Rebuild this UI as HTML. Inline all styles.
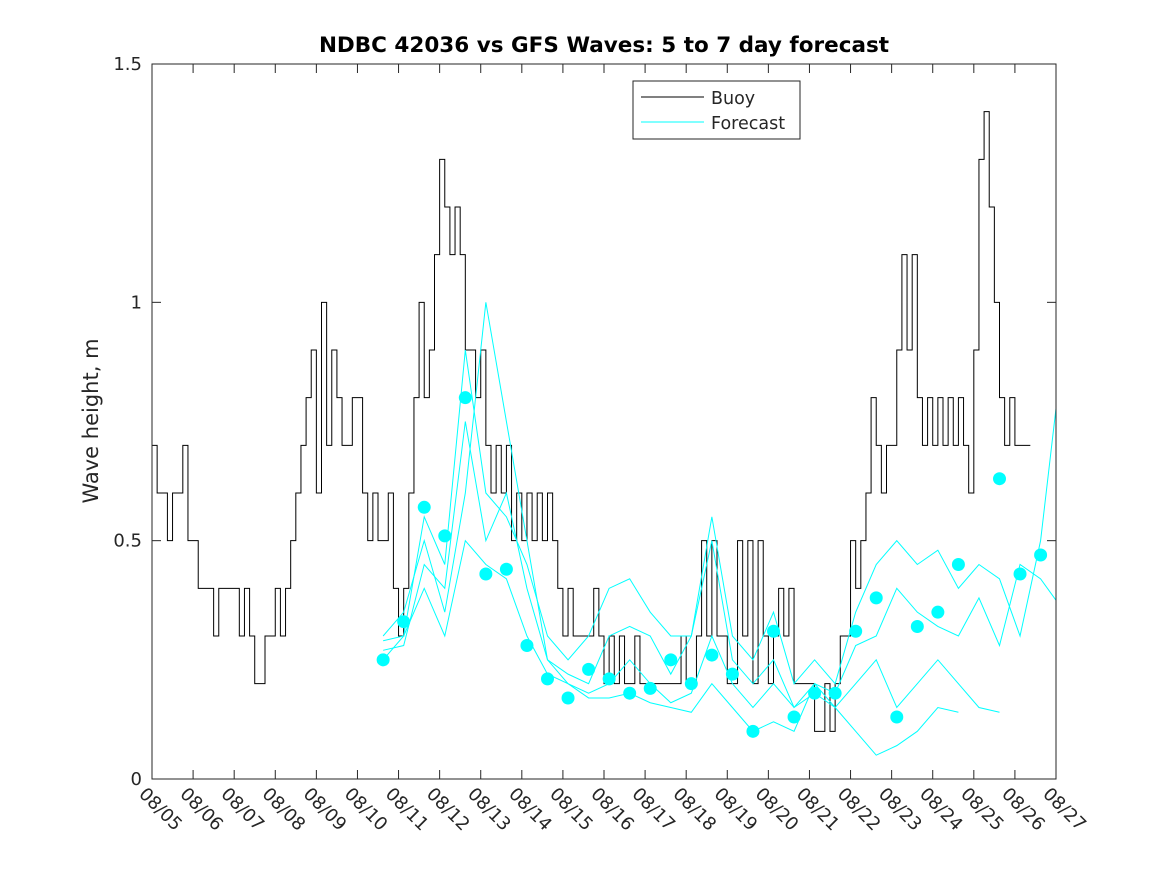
<!DOCTYPE html>
<html><head><meta charset="utf-8"><style>
body{margin:0;background:#fff}
svg{display:block;font-family:"DejaVu Sans","Liberation Sans",sans-serif}
</style></head><body>
<svg id="chart" width="1167" height="875">
<defs><clipPath id="pc"><rect x="152" y="64" width="904" height="715"/></clipPath></defs>
<rect x="0" y="0" width="1167" height="875" fill="#fff"/>
<text x="604" y="52" text-anchor="middle" font-size="21.5" font-weight="bold">NDBC 42036 vs GFS Waves: 5 to 7 day forecast</text>
<g id="axes"></g>
<g id="series" clip-path="url(#pc)"></g>
<rect x="152" y="64" width="904" height="715" fill="none" stroke="#262626" stroke-width="1"/>
<text transform="translate(98,421) rotate(-90)" text-anchor="middle" font-size="21" fill="#262626">Wave height, m</text>
<g>
<rect x="633" y="81" width="167" height="58" fill="#fff" stroke="#262626"/>
<line x1="641" y1="97" x2="704" y2="97" stroke="#000"/>
<text x="711" y="104" font-size="17.5" fill="#262626">Buoy</text>
<line x1="641" y1="122" x2="704" y2="122" stroke="#00ffff"/>
<text x="711" y="129" font-size="17.5" fill="#262626">Forecast</text>
</g>
</svg>
<script>
const xTickLabels=["08/05","08/06","08/07","08/08","08/09","08/10","08/11","08/12","08/13","08/14","08/15","08/16","08/17","08/18","08/19","08/20","08/21","08/22","08/23","08/24","08/25","08/26","08/27"];
const yTicks=[0,0.5,1,1.5];
const yTickLabels=["0","0.5","1","1.5"];
// buoy every 3h from day 0
const buoy=[0.7,0.6,0.6,0.5,0.6,0.6,0.7,0.5,
0.5,0.4,0.4,0.4,0.3,0.4,0.4,0.4,
0.4,0.3,0.4,0.3,0.2,0.2,0.3,0.3,
0.4,0.3,0.4,0.5,0.6,0.7,0.8,0.9,
0.6,1.0,0.7,0.9,0.8,0.7,0.7,0.8,
0.8,0.6,0.5,0.6,0.5,0.5,0.6,0.4,
0.3,0.4,0.6,0.8,1.0,0.8,0.9,1.1,
1.3,1.2,1.1,1.2,1.1,0.9,0.9,0.8,
0.9,0.7,0.6,0.7,0.6,0.7,0.5,0.6,
0.5,0.6,0.5,0.6,0.5,0.6,0.5,0.4,
0.3,0.4,0.3,0.3,0.3,0.3,0.4,0.3,
0.2,0.3,0.2,0.3,0.2,0.2,0.3,0.2,
0.2,0.2,0.2,0.2,0.2,0.2,0.2,0.3,
0.2,0.2,0.3,0.5,0.3,0.5,0.3,0.3,
0.2,0.2,0.5,0.3,0.5,0.2,0.5,0.3,
0.2,0.3,0.4,0.3,0.4,0.2,0.2,0.2,
0.2,0.1,0.1,0.2,0.1,0.2,0.3,0.3,
0.5,0.4,0.5,0.6,0.8,0.7,0.6,0.7,
0.7,0.9,1.1,0.9,1.1,0.8,0.7,0.8,
0.7,0.8,0.7,0.8,0.7,0.8,0.7,0.6,
0.9,1.3,1.4,1.2,1.0,0.8,0.7,0.8,
0.7,0.7,0.7];
// forecast dots every 0.5 day starting day 5.625
const dots=[0.25,0.33,0.57,0.51,0.80,0.43,0.44,0.28,0.21,0.17,0.23,0.21,0.18,0.19,0.25,0.20,0.26,0.22,0.10,0.31,0.13,0.18,0.18,0.31,0.38,0.13,0.32,0.35,0.45,null,0.63,0.43,0.47];
const fcA=[0.25,0.3,0.55,0.45,0.9,0.6,0.55,0.45,0.3,0.25,0.3,0.4,0.42,0.35,0.3,0.3,0.55,0.3,0.25,0.35,0.2,0.25,0.2,0.35,0.45,0.5,0.45,0.48,0.4,0.45,0.42,0.3,0.5,0.87];
const fcB=[0.27,0.28,0.45,0.4,0.75,0.5,0.6,0.4,0.25,0.22,0.2,0.3,0.32,0.3,0.22,0.3,0.5,0.25,0.2,0.25,0.15,0.2,0.18,0.28,0.3,0.4,0.35,0.32,0.3,0.38,0.28,0.45,0.42,0.36];
const fcC=[0.3,0.35,0.5,0.35,0.6,1.0,0.75,0.5,0.25,0.2,0.18,0.2,0.25,0.2,0.16,0.18,0.3,0.2,0.15,0.2,0.15,0.18,0.15,0.2,0.25,0.15,0.2,0.25,0.2,0.15,0.14];
const fcD=[0.29,0.3,0.4,0.3,0.5,0.45,0.42,0.3,0.22,0.2,0.17,0.17,0.18,0.16,0.15,0.14,0.2,0.15,0.1,0.12,0.1,0.2,0.15,0.1,0.05,0.07,0.1,0.15,0.14];

const NS="http://www.w3.org/2000/svg";
const X=d=>152+d*(904/22), Y=v=>779-v*(715/1.5);
const axes=document.getElementById('axes'), ser=document.getElementById('series');
function mk(t,a,p){const e=document.createElementNS(NS,t);for(const k in a)e.setAttribute(k,a[k]);p.appendChild(e);return e;}
xTickLabels.forEach((l,i)=>{const x=X(i);
 const t1=mk('line',{x1:x,y1:779,x2:x,y2:770,stroke:'#262626'},axes);
 
 
 mk('line',{x1:x,y1:64,x2:x,y2:73,stroke:'#262626'},axes);
 const t=mk('text',{transform:`translate(${x-14},${795}) rotate(45)`,'font-size':18,fill:'#262626'},axes);
 t.textContent=l;
 
 
});
yTicks.forEach((v,i)=>{const y=Y(v);
 mk('line',{x1:152,y1:y,x2:161,y2:y,stroke:'#262626'},axes);
 mk('line',{x1:1056,y1:y,x2:1047,y2:y,stroke:'#262626'},axes);
 const t=mk('text',{x:142,y:y+6,'text-anchor':'end','font-size':18,fill:'#262626'},axes);
 t.textContent=yTickLabels[i];
 
 
});
let d='';buoy.forEach((v,i)=>{const x0=X(i*0.125),x1=X((i+1)*0.125);d+=(i?'L':'M')+x0+','+Y(v)+'L'+x1+','+Y(v);});
const bp=mk('path',{d:d,fill:'none',stroke:'#000','stroke-width':1},ser);


[fcA,fcB,fcC,fcD].forEach((s,j)=>{
 const p=mk('polyline',{points:s.map((v,i)=>X(5.625+0.5*i)+','+Y(v)).join(' '),fill:'none',stroke:'#00ffff','stroke-width':1},ser);
 
 
});
dots.forEach((v,i)=>{if(v==null)return;
 const c=mk('circle',{cx:X(5.625+0.5*i),cy:Y(v),r:6.5,fill:'#00ffff'},ser);
 
 
});
</script>
</body></html>
